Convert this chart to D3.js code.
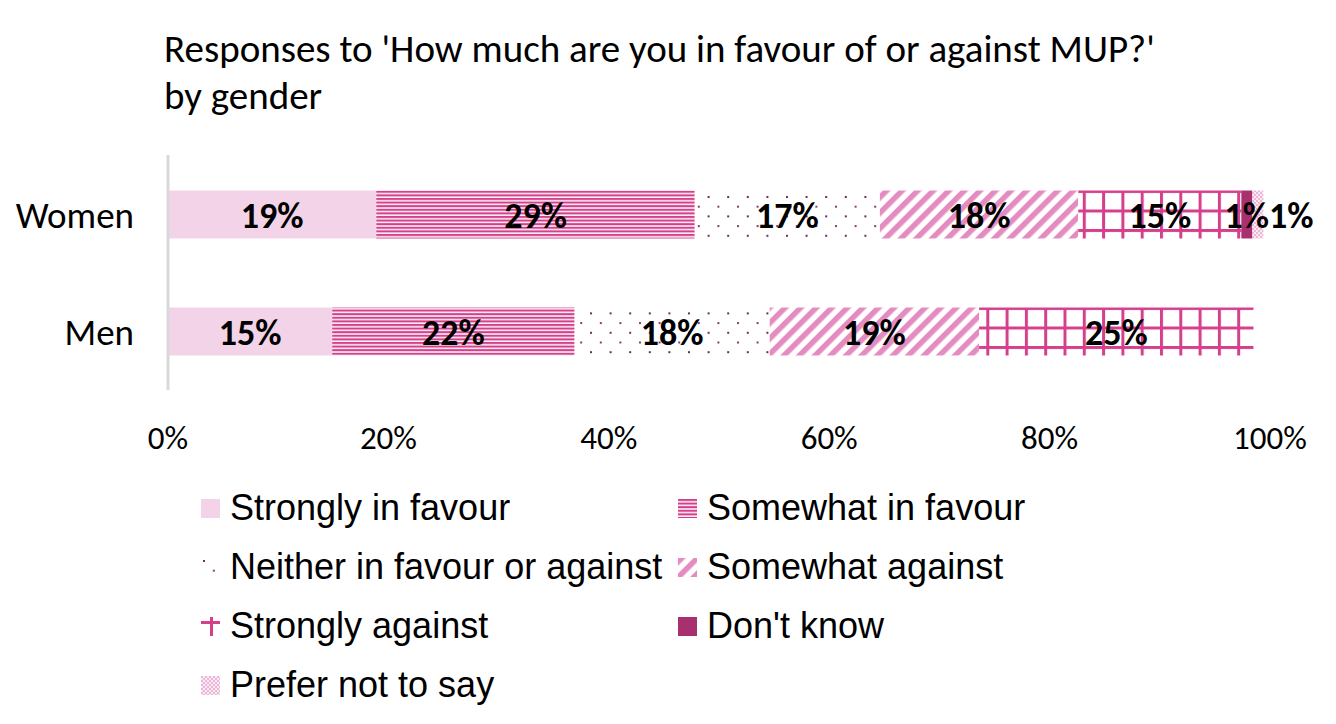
<!DOCTYPE html>
<html>
<head>
<meta charset="utf-8">
<script src="https://cdn.jsdelivr.net/npm/d3@7"></script>
<style>
  body { margin: 0; background: #fff; }
  svg { display: block; }
</style>
</head>
<body>
<div id="chart"></div>
<script>
// Stacked 100% bar chart: attitudes to MUP by gender.

var groups = ["Women", "Men"];
var categories = [
    "Strongly in favour",
    "Somewhat in favour",
    "Neither in favour or against",
    "Somewhat against",
    "Strongly against",
    "Don't know",
    "Prefer not to say"
];
// percentages per category, same order as categories
var womenValues = [18.9, 28.9, 16.8, 18.0, 14.8, 1.0, 1.0];
var menValues = [14.9, 22.0, 17.7, 19.0, 24.9, 0, 0];
var xTicks = [0, 20, 40, 60, 80, 100];
var titleLines = ["Responses to 'How much are you in favour of or against MUP?'", "by gender"];

var W = 1336, H = 724;
var calibri = "Carlito, Calibri, Lato, sans-serif";
var arial = "'Liberation Sans', Arial, sans-serif";

var svg = d3.select("#chart").append("svg")
    .attr("width", W)
    .attr("height", H);

/**
  * Builds the fill patterns used by the segments.
  */
function makePatterns(svg){
    var defs = svg.append("defs");

    // horizontal lines
    var p = defs.append("pattern").attr("id", "p-hlines")
        .attr("patternUnits", "userSpaceOnUse")
        .attr("width", 8).attr("height", 3.6);
    p.append("rect").attr("width", 8).attr("height", 3.6).attr("fill", "#fbeef5");
    p.append("rect").attr("width", 8).attr("height", 2).attr("fill", "#d5408c");

    // dots
    p = defs.append("pattern").attr("id", "p-dots")
        .attr("patternUnits", "userSpaceOnUse")
        .attr("x", 2).attr("y", 2)
        .attr("width", 19.6).attr("height", 19.4);
    p.append("rect").attr("width", 19.6).attr("height", 19.4).attr("fill", "#fff");
    p.append("rect").attr("x", 0).attr("y", 0).attr("width", 2).attr("height", 2).attr("fill", "#6e2a5c");
    p.append("rect").attr("x", 9.8).attr("y", 9.7).attr("width", 2).attr("height", 2).attr("fill", "#8a3a72");

    // wide diagonal stripes
    p = defs.append("pattern").attr("id", "p-diag")
        .attr("patternUnits", "userSpaceOnUse")
        .attr("width", 11).attr("height", 11)
        .attr("patternTransform", "rotate(45)");
    p.append("rect").attr("width", 11).attr("height", 11).attr("fill", "#fff");
    p.append("rect").attr("width", 5.5).attr("height", 11).attr("fill", "#e48bc1");

    // large grid
    p = defs.append("pattern").attr("id", "p-grid")
        .attr("patternUnits", "userSpaceOnUse")
        .attr("x", 2).attr("y", 190)
        .attr("width", 19.3).attr("height", 19.5);
    p.append("rect").attr("width", 19.3).attr("height", 19.5).attr("fill", "#fff");
    p.append("rect").attr("x", 0).attr("width", 3).attr("height", 19.5).attr("fill", "#d5408c");
    p.append("rect").attr("y", 0).attr("width", 19.3).attr("height", 3).attr("fill", "#d5408c");

    // grid as it sits in the small legend key
    p = defs.append("pattern").attr("id", "p-grid-key")
        .attr("patternUnits", "userSpaceOnUse")
        .attr("width", 19).attr("height", 19);
    p.append("rect").attr("width", 19).attr("height", 19).attr("fill", "#fff");
    p.append("rect").attr("x", 9).attr("y", 0).attr("width", 3).attr("height", 19).attr("fill", "#d5408c");
    p.append("rect").attr("x", 0).attr("y", 4).attr("width", 19).attr("height", 3).attr("fill", "#d5408c");

    // small checker
    p = defs.append("pattern").attr("id", "p-check")
        .attr("patternUnits", "userSpaceOnUse")
        .attr("width", 4).attr("height", 4);
    p.append("rect").attr("width", 4).attr("height", 4).attr("fill", "#fbe9f3");
    p.append("rect").attr("width", 2).attr("height", 2).attr("fill", "#eeb6d6");
    p.append("rect").attr("x", 2).attr("y", 2).attr("width", 2).attr("height", 2).attr("fill", "#eeb6d6");
}
makePatterns(svg);

var fills = [
    "#f2d3e8",
    "url(#p-hlines)",
    "url(#p-dots)",
    "url(#p-diag)",
    "url(#p-grid)",
    "#a8306f",
    "url(#p-check)"
];
var keyFills = fills.slice();
keyFills[4] = "url(#p-grid-key)";

// scales
var x = d3.scaleLinear().domain([0, 100]).range([168, 1270]);
var y = d3.scaleBand().domain(groups).range([156, 390])
    .paddingInner(0.59).paddingOuter(0.295);

// title
svg.append("g").selectAll("text")
    .data(titleLines)
    .join("text")
    .attr("x", 164)
    .attr("y", function(d, i){ return 62 + i * 47; })
    .attr("font-family", calibri)
    .attr("font-size", 39)
    .attr("fill", "#000")
    .text(function(d){ return d; });

// stacked data
var table = groups.map(function(g){
    var vals = g == "Women" ? womenValues : menValues;
    var row = { group: g };
    categories.forEach(function(c, i){ row[c] = vals[i]; });
    return row;
});
var series = d3.stack().keys(categories)(table);

var bars = svg.append("g");
series.forEach(function(s, i){
    bars.selectAll(".seg" + i)
        .data(s.filter(function(d){ return d[1] - d[0] > 0; }))
        .join("rect")
        .attr("class", "seg" + i)
        .attr("x", function(d){ return x(d[0]); })
        .attr("y", function(d){ return y(d.data.group); })
        .attr("width", function(d){ return x(d[1]) - x(d[0]); })
        .attr("height", y.bandwidth())
        .attr("fill", fills[i]);
});

// vertical axis line
svg.append("line")
    .attr("x1", x(0)).attr("x2", x(0))
    .attr("y1", 155).attr("y2", 390)
    .attr("stroke", "#d9d9d9")
    .attr("stroke-width", 3);

// category labels
svg.append("g").selectAll("text")
    .data(groups)
    .join("text")
    .attr("x", 134)
    .attr("y", function(d){ return y(d) + y.bandwidth() / 2 + 13; })
    .attr("text-anchor", "end")
    .attr("font-family", calibri)
    .attr("font-size", 37)
    .text(function(d){ return d; });

// x tick labels
svg.append("g").selectAll("text")
    .data(xTicks)
    .join("text")
    .attr("x", function(d){ return x(d); })
    .attr("y", 449)
    .attr("text-anchor", "middle")
    .attr("font-family", calibri)
    .attr("font-size", 33)
    .text(function(d){ return d + "%"; });

// data labels, pushed right where they would collide
var labelLayer = svg.append("g");
groups.forEach(function(g, gi){
    var lastRight = -Infinity;
    series.forEach(function(s){
        var d = s[gi];
        var v = d[1] - d[0];
        if (v <= 0) return;
        var t = labelLayer.append("text")
            .attr("y", y(g) + y.bandwidth() / 2 + 13)
            .attr("text-anchor", "middle")
            .attr("font-family", calibri)
            .attr("font-weight", "bold")
            .attr("font-size", 36)
            .text(Math.round(v) + "%");
        var w = t.node().getComputedTextLength();
        var cx = (x(d[0]) + x(d[1])) / 2;
        if (cx - w / 2 < lastRight) cx = lastRight + w / 2;
        t.attr("x", cx);
        lastRight = cx + w / 2;
    });
});

// legend
var legend = svg.append("g");
var legendItems = legend.selectAll("g")
    .data(categories)
    .join("g")
    .attr("transform", function(d, i){
        var col = i % 2, row = Math.floor(i / 2);
        return "translate(" + (col == 0 ? 201 : 678) + "," + (499 + row * 59) + ")";
    });
legendItems.append("rect")
    .attr("width", 19).attr("height", 19)
    .attr("fill", function(d, i){ return keyFills[i]; });
legendItems.append("text")
    .attr("x", 29)
    .attr("y", 21)
    .attr("font-family", arial)
    .attr("font-size", 36)
    .text(function(d){ return d; });
</script>
</body>
</html>
